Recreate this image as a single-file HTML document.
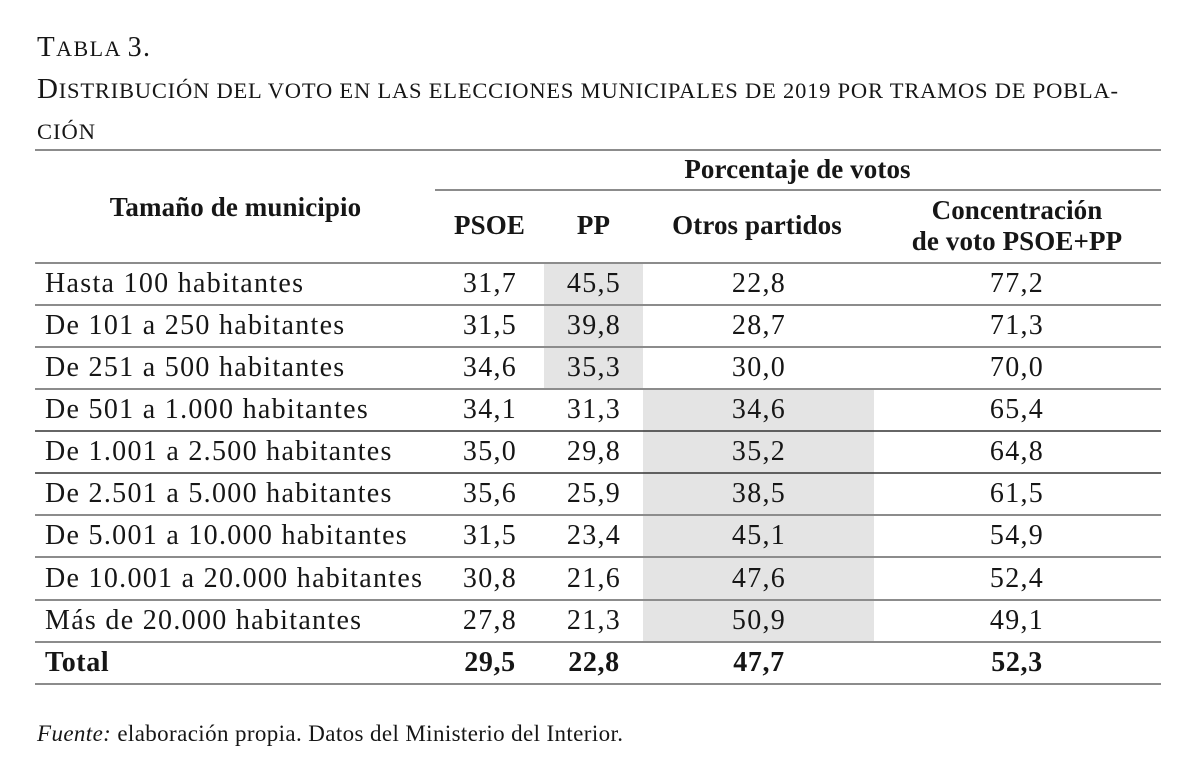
<!DOCTYPE html>
<html>
<head>
<meta charset="utf-8">
<style>
  html, body { margin: 0; padding: 0; background: #ffffff; }
  body { width: 1196px; height: 775px; overflow: hidden; }
  svg { display: block; }
  text { font-family: "Liberation Serif", "DejaVu Serif", serif; fill: #161616; }
  .b { font-size: 28px; letter-spacing: 1.3px; }
  .h { font-size: 27px; font-weight: bold; letter-spacing: 0.1px; }
  .t { font-size: 28px; font-weight: bold; letter-spacing: 0.6px; }
</style>
</head>
<body>
<svg width="1196" height="775" viewBox="0 0 1196 775" xmlns="http://www.w3.org/2000/svg">
  <!-- Title -->
  <text x="37" y="56" textLength="113" lengthAdjust="spacing"><tspan font-size="29">T</tspan><tspan font-size="22">ABLA </tspan><tspan font-size="28">3.</tspan></text>
  <text x="37" y="98" textLength="1081" lengthAdjust="spacing"><tspan font-size="29">D</tspan><tspan font-size="22.5">ISTRIBUCIÓN DEL VOTO EN LAS ELECCIONES MUNICIPALES DE 2019 POR TRAMOS DE POBLA-</tspan></text>
  <text x="37" y="139" font-size="22.5" textLength="58" lengthAdjust="spacing">CIÓN</text>

  <!-- Shaded cells -->
  <rect x="544" y="264" width="99" height="125" fill="#e4e4e4"/>
  <rect x="643" y="389" width="231" height="253" fill="#e4e4e4"/>

  <!-- Rules -->
  <g stroke="#8c8c8c" stroke-width="2">
    <line x1="35" y1="150" x2="1161" y2="150"/>
    <line x1="435" y1="190" x2="1161" y2="190"/>
    <line x1="35" y1="263" x2="1161" y2="263"/>
    <line x1="35" y1="305" x2="1161" y2="305"/>
    <line x1="35" y1="347" x2="1161" y2="347"/>
    <line x1="35" y1="389" x2="1161" y2="389"/>
    <line x1="35" y1="515" x2="1161" y2="515"/>
    <line x1="35" y1="557" x2="1161" y2="557"/>
    <line x1="35" y1="600" x2="1161" y2="600"/>
    <line x1="35" y1="642" x2="1161" y2="642"/>
    <line x1="35" y1="684" x2="1161" y2="684"/>
  </g>
  <g stroke="#333333" stroke-width="1.4">
    <line x1="35" y1="431" x2="1161" y2="431"/>
    <line x1="35" y1="473" x2="1161" y2="473"/>
  </g>

  <!-- Header -->
  <text class="h" x="235.5" y="216" text-anchor="middle">Tamaño de municipio</text>
  <text class="h" x="797.5" y="178" text-anchor="middle">Porcentaje de votos</text>
  <text class="h" x="489.5" y="234" text-anchor="middle">PSOE</text>
  <text class="h" x="593.5" y="234" text-anchor="middle">PP</text>
  <text class="h" x="757" y="234" text-anchor="middle">Otros partidos</text>
  <text class="h" x="1017" y="219" text-anchor="middle">Concentración</text>
  <text class="h" x="1017" y="250" text-anchor="middle">de voto PSOE+PP</text>

  <!-- Rows -->
  <g>
    <text class="b" x="45" y="292">Hasta 100 habitantes</text>
    <text class="b" x="45" y="334">De 101 a 250 habitantes</text>
    <text class="b" x="45" y="376">De 251 a 500 habitantes</text>
    <text class="b" x="45" y="418">De 501 a 1.000 habitantes</text>
    <text class="b" x="45" y="460">De 1.001 a 2.500 habitantes</text>
    <text class="b" x="45" y="502">De 2.501 a 5.000 habitantes</text>
    <text class="b" x="45" y="544">De 5.001 a 10.000 habitantes</text>
    <text class="b" x="45" y="587">De 10.001 a 20.000 habitantes</text>
    <text class="b" x="45" y="629">Más de 20.000 habitantes</text>
  </g>
  <g text-anchor="middle">
    <text class="b" x="490" y="292">31,7</text><text class="b" x="594" y="292">45,5</text><text class="b" x="759" y="292">22,8</text><text class="b" x="1017" y="292">77,2</text>
    <text class="b" x="490" y="334">31,5</text><text class="b" x="594" y="334">39,8</text><text class="b" x="759" y="334">28,7</text><text class="b" x="1017" y="334">71,3</text>
    <text class="b" x="490" y="376">34,6</text><text class="b" x="594" y="376">35,3</text><text class="b" x="759" y="376">30,0</text><text class="b" x="1017" y="376">70,0</text>
    <text class="b" x="490" y="418">34,1</text><text class="b" x="594" y="418">31,3</text><text class="b" x="759" y="418">34,6</text><text class="b" x="1017" y="418">65,4</text>
    <text class="b" x="490" y="460">35,0</text><text class="b" x="594" y="460">29,8</text><text class="b" x="759" y="460">35,2</text><text class="b" x="1017" y="460">64,8</text>
    <text class="b" x="490" y="502">35,6</text><text class="b" x="594" y="502">25,9</text><text class="b" x="759" y="502">38,5</text><text class="b" x="1017" y="502">61,5</text>
    <text class="b" x="490" y="544">31,5</text><text class="b" x="594" y="544">23,4</text><text class="b" x="759" y="544">45,1</text><text class="b" x="1017" y="544">54,9</text>
    <text class="b" x="490" y="587">30,8</text><text class="b" x="594" y="587">21,6</text><text class="b" x="759" y="587">47,6</text><text class="b" x="1017" y="587">52,4</text>
    <text class="b" x="490" y="629">27,8</text><text class="b" x="594" y="629">21,3</text><text class="b" x="759" y="629">50,9</text><text class="b" x="1017" y="629">49,1</text>
  </g>

  <!-- Total -->
  <text class="t" x="45" y="671">Total</text>
  <g text-anchor="middle">
    <text class="t" x="490" y="671">29,5</text>
    <text class="t" x="594" y="671">22,8</text>
    <text class="t" x="759" y="671">47,7</text>
    <text class="t" x="1017" y="671">52,3</text>
  </g>

  <!-- Source -->
  <text x="37" y="741" font-size="23" textLength="586" lengthAdjust="spacing"><tspan font-style="italic">Fuente:</tspan> elaboración propia. Datos del Ministerio del Interior.</text>
</svg>
</body>
</html>
